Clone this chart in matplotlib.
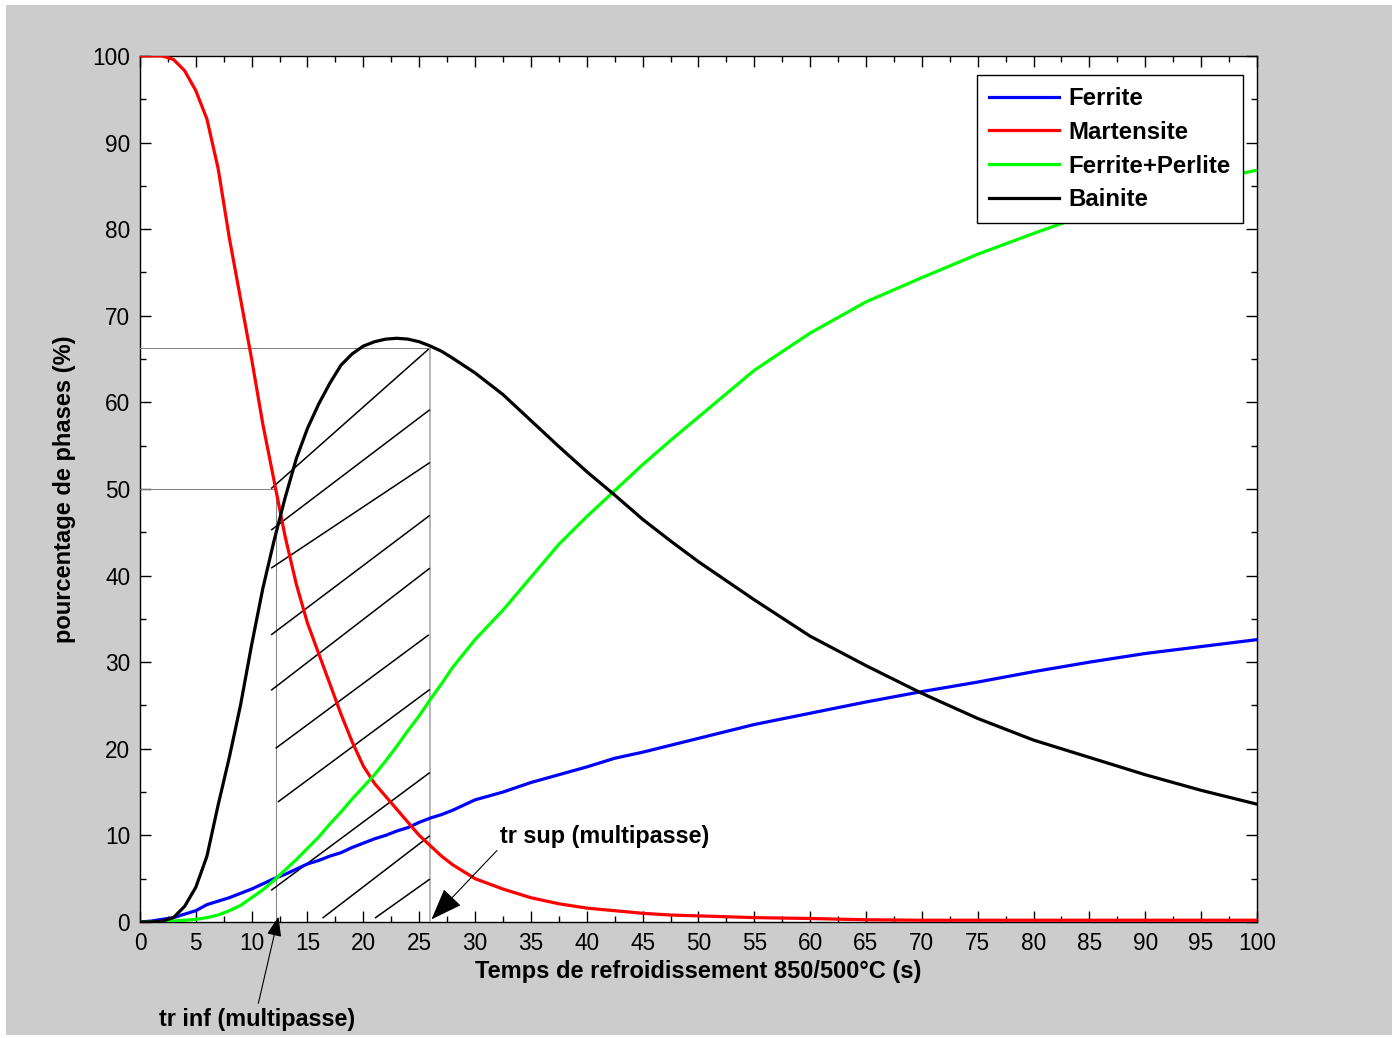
import matplotlib.pyplot as plt
from matplotlib.patches import Rectangle

plt.rcParams['font.family'] = ['Liberation Sans', 'DejaVu Sans']

# temps de refroidissement (s)
t = [0, 1, 2, 3, 4, 5, 6, 7, 8, 9, 10, 11, 12, 13, 14, 15, 16, 17, 18, 19, 20,
     21, 22, 23, 24, 25, 26, 27, 28, 30, 32.5, 35, 37.5, 40, 42.5, 45, 47.5, 50,
     55, 60, 65, 70, 75, 80, 85, 90, 95, 100]

ferrite = [0, 0.1, 0.3, 0.5, 0.9, 1.3, 2.0, 2.4, 2.8, 3.3, 3.8, 4.4, 5.0, 5.5, 6.1,
           6.7, 7.1, 7.6, 8.0, 8.6, 9.1, 9.6, 10.0, 10.5, 10.9, 11.5, 12.0, 12.4,
           12.9, 14.1, 15.0, 16.1, 17.0, 17.9, 18.9, 19.6, 20.4, 21.2, 22.8, 24.1,
           25.4, 26.6, 27.7, 28.9, 30.0, 31.0, 31.8, 32.6]

martensite = [100, 100, 100, 99.6, 98.3, 96, 92.7, 87, 79, 72, 65, 57.5, 51, 44.5,
              39, 34.5, 31, 27.5, 24, 20.8, 18, 16, 14.5, 13, 11.5, 10, 8.8, 7.6,
              6.6, 5, 3.8, 2.8, 2.1, 1.6, 1.3, 1.0, 0.8, 0.7, 0.5, 0.4, 0.25, 0.2,
              0.2, 0.2, 0.2, 0.2, 0.2, 0.2]

ferrite_perlite = [0, 0, 0, 0.1, 0.2, 0.3, 0.5, 0.8, 1.3, 1.9, 2.8, 3.7, 4.8, 6.0,
                   7.2, 8.5, 9.8, 11.3, 12.7, 14.2, 15.6, 17.0, 18.6, 20.3, 22.1,
                   23.8, 25.7, 27.5, 29.4, 32.6, 36.0, 39.8, 43.6, 46.8, 49.8, 52.8,
                   55.6, 58.3, 63.7, 68.0, 71.6, 74.4, 77.1, 79.5, 81.8, 83.8, 85.5,
                   86.8]

bainite = [0, 0, 0.1, 0.5, 1.8, 4, 7.6, 13.5, 19, 25, 32, 38.5, 44, 49, 53.5, 57,
           59.8, 62.2, 64.3, 65.6, 66.5, 67.0, 67.3, 67.4, 67.3, 67.0, 66.5, 65.9,
           65.1, 63.4, 60.9, 57.9, 54.9, 52.0, 49.3, 46.5, 44.0, 41.6, 37.2, 33.0,
           29.6, 26.4, 23.5, 21.0, 19.0, 17.0, 15.2, 13.6]

# bornes tr inf / tr sup
tr_inf, tr_sup = 12.2, 26.0
y_inf, y_sup = 50, 66.3

# hachures (x0, y0, x1, y1)
hatch_x0 = [11.8, 11.8, 11.8, 11.8, 11.8, 12.2, 12.4, 11.8, 16.4, 21.1]
hatch_y0 = [50.1, 45.3, 40.9, 33.2, 26.8, 20.1, 13.9, 3.7, 0.5, 0.5]
hatch_x1 = [25.8, 25.9, 25.9, 25.9, 25.9, 25.8, 25.9, 25.9, 25.9, 25.9]
hatch_y1 = [66.1, 59.1, 53.0, 46.9, 40.8, 33.1, 26.8, 17.2, 9.9, 4.9]

fig = plt.figure(figsize=(13.98, 10.38), dpi=100, facecolor='white')
fig.patches.append(Rectangle((6 / 1398, 3 / 1038), 1386 / 1398, 1030 / 1038,
                             transform=fig.transFigure, facecolor='#cccccc',
                             edgecolor='none', zorder=-10))
ax = fig.add_axes([0.1001, 0.1118, 0.799, 0.8343])

lw = 2.3
ax.plot(t, ferrite, color='#0000ff', lw=lw, label='Ferrite', zorder=5)
ax.plot(t, martensite, color='#ff0000', lw=lw, label='Martensite', zorder=5)
ax.plot(t, ferrite_perlite, color='#00ff00', lw=lw, label='Ferrite+Perlite', zorder=5)
ax.plot(t, bainite, color='black', lw=lw, label='Bainite', zorder=5)

# lignes de repere
gray = '#808080'
ax.plot([0, tr_inf], [y_inf, y_inf], color=gray, lw=0.7, zorder=3)
ax.plot([tr_inf, tr_inf], [0, y_inf], color=gray, lw=0.7, zorder=3)
ax.plot([0, tr_sup], [y_sup, y_sup], color=gray, lw=0.7, zorder=3)
ax.plot([tr_sup, tr_sup], [0, y_sup], color='#aaaaaa', lw=1.2, zorder=3)

for x0, y0, x1, y1 in zip(hatch_x0, hatch_y0, hatch_x1, hatch_y1):
    ax.plot([x0, x1], [y0, y1], color='black', lw=1.1, zorder=4)

ax.annotate('tr sup (multipasse)', xy=(26.1, 0.3), xytext=(32.2, 9.9),
            fontsize=16.8, fontweight='bold', va='center', ha='left',
            arrowprops=dict(arrowstyle='-|>,head_length=1.2,head_width=0.45',
                            color='black', lw=0.8, shrinkA=0, shrinkB=0,
                            relpos=(0, 0.0)), zorder=6)
ax.annotate('', xy=(12.4, 0.6), xytext=(10.6, -9.4),
            arrowprops=dict(arrowstyle='-|>,head_length=1.2,head_width=0.45',
                            color='black', lw=0.8, shrinkA=0, shrinkB=0),
            annotation_clip=False, zorder=6)
ax.text(1.7, -11.3, 'tr inf (multipasse)', fontsize=16.8, fontweight='bold',
        va='center', ha='left', clip_on=False)

ax.set_xlim(0, 100)
ax.set_ylim(0, 100)
ax.set_xticks(range(0, 101, 5))
ax.set_yticks(range(0, 101, 10))
ax.set_xticks([i * 2.5 for i in range(41)], minor=True)
ax.set_yticks(range(0, 101, 5), minor=True)
ax.tick_params(which='both', direction='in', top=True, right=True,
               labelsize=16.3, width=1, pad=7)
ax.tick_params(which='major', length=8)
ax.tick_params(which='minor', length=4)
for s in ax.spines.values():
    s.set_linewidth(1.0)

ax.set_xlabel('Temps de refroidissement 850/500°C (s)', fontsize=17,
              fontweight='bold', labelpad=4)
ax.set_ylabel('pourcentage de phases (%)', fontsize=17, fontweight='bold',
              labelpad=12)

leg = ax.legend(loc='upper right', bbox_to_anchor=(0.9875, 0.978),
                prop={'weight': 'bold', 'size': 17.3}, fancybox=False,
                framealpha=1, edgecolor='black', handlelength=2.9,
                handletextpad=0.4, labelspacing=0.45, borderpad=0.5,
                borderaxespad=0)
leg.get_frame().set_linewidth(1.0)

fig.savefig('out.png', dpi=100, facecolor=fig.get_facecolor())
